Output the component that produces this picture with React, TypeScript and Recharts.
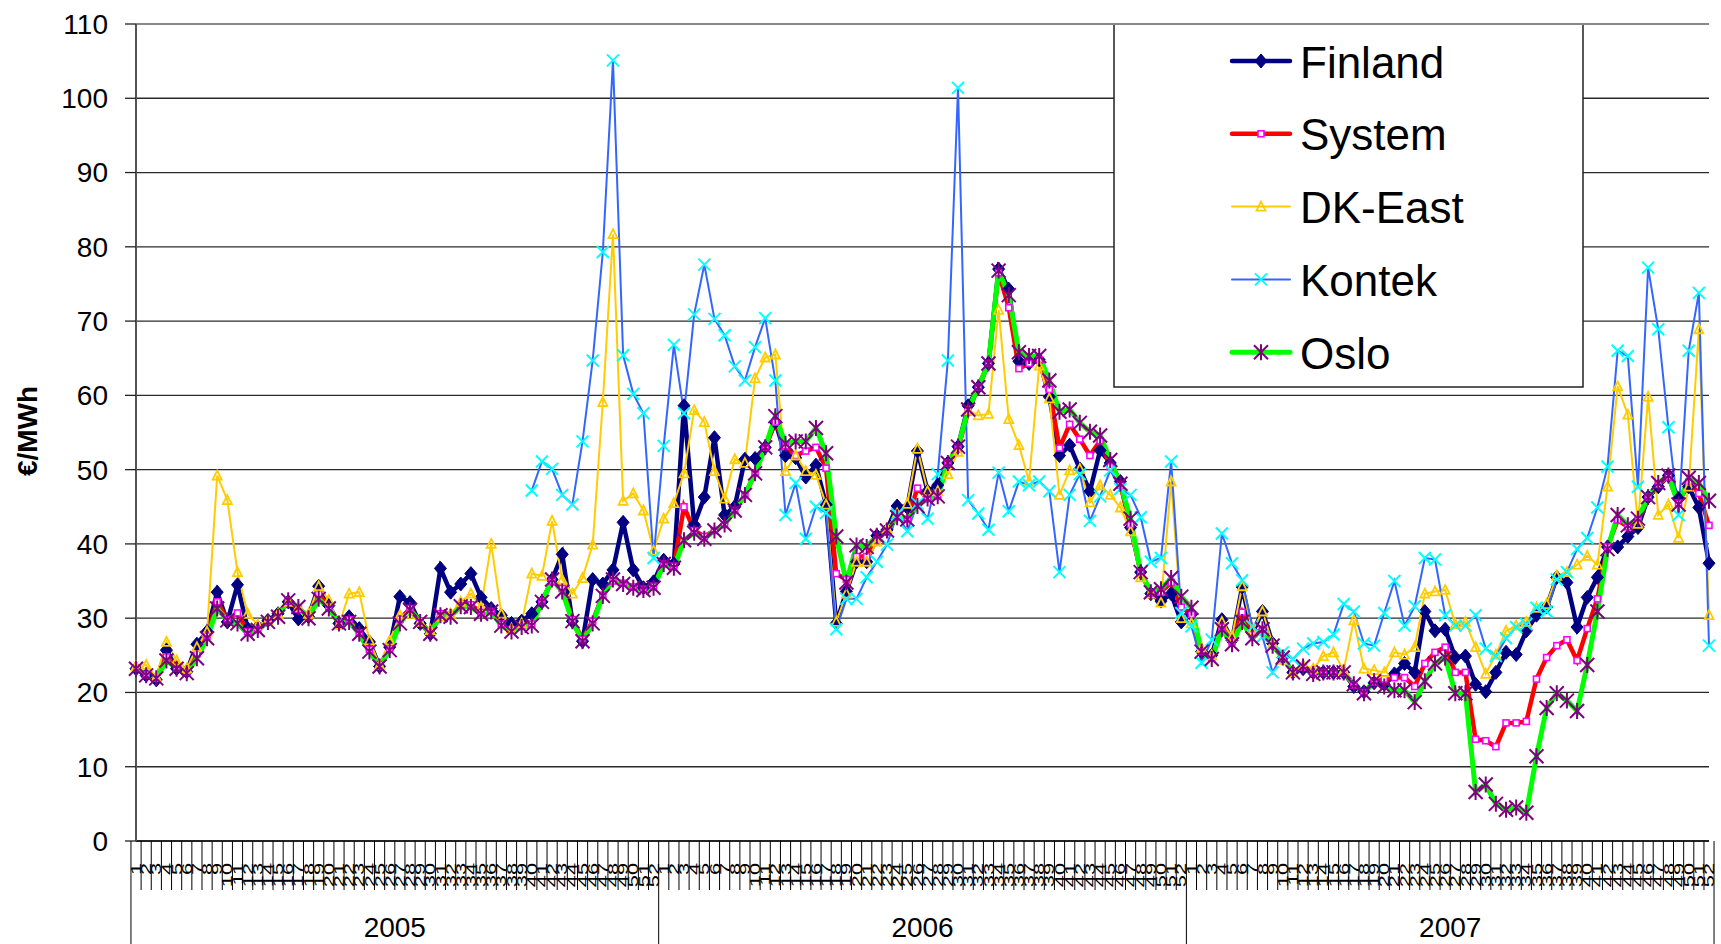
import React from 'react';
import { LineChart, Line, XAxis, YAxis, CartesianGrid, ReferenceLine, Customized } from 'recharts';

const YEARS = ['2005', '2006', '2007'];
const WEEKS = ['1','2','3','4','5','6','7','8','9','10','11','12','13','14','15','16','17','18','19','20','21','22','23','24','25','26','27','28','29','30','31','32','33','34','35','36','37','38','39','40','41','42','43','44','45','46','47','48','49','50','51','52'];
const Y_TICKS = [0, 10, 20, 30, 40, 50, 60, 70, 80, 90, 100, 110];

const FINLAND = [
  23.2, 22.3, 21.7, 25.7, 23.2, 22.8, 26.5, 28.2, 33.5, 29.5,
  34.5, 28.6, 28.8, 29.7, 30.6, 32.2, 29.9, 30.2, 34.3, 31.7,
  29.3, 30.2, 28.6, 26.8, 23.5, 26.1, 32.9, 32.1, 29.3, 27.9,
  36.7, 33.5, 34.6, 36.0, 32.8, 31.3, 30.4, 29.3, 29.6, 30.6,
  32.2, 35.2, 38.6, 29.6, 26.9, 35.2, 34.6, 36.5, 42.9, 36.5,
  34.1, 34.9,
  37.8, 37.3, 58.6, 42.6, 46.3, 54.3, 43.9, 45.0, 51.4, 51.5,
  53.0, 56.4, 51.9, 51.6, 49.0, 50.6, 45.3, 29.3, 33.6, 37.6,
  37.6, 41.1, 41.9, 45.1, 44.9, 52.5, 47.1, 47.9, 50.9, 53.1,
  58.6, 61.1, 64.3, 77.0, 74.3, 64.6, 64.3, 64.8, 59.8, 51.9,
  53.3, 50.1, 47.1, 52.6, 50.9, 48.4, 42.2, 36.2, 33.3, 32.3,
  33.3, 29.5,
  30.5, 25.5, 25.0, 29.8, 27.0, 34.2, 28.0, 30.9, 26.6, 24.7,
  22.7, 23.2, 22.7, 22.7, 22.7, 22.7, 20.8, 20.1, 21.3, 21.1,
  22.5, 23.9, 22.7, 30.9, 28.3, 28.5, 24.7, 24.9, 21.1, 20.1,
  22.7, 25.4, 25.1, 28.3, 30.4, 31.5, 35.5, 34.8, 28.8, 32.8,
  35.5, 39.6, 39.6, 41.0, 42.2, 46.3, 47.7, 49.2, 46.1, 47.7,
  44.9, 37.4,
];

const SYSTEM = [
  23.3, 22.4, 22.0, 24.8, 23.3, 22.7, 25.2, 27.6, 32.2, 29.8,
  30.7, 28.2, 28.5, 29.6, 30.3, 32.3, 31.2, 30.2, 33.3, 31.5,
  29.4, 29.8, 28.0, 25.8, 23.6, 25.9, 29.9, 31.3, 29.6, 28.0,
  30.6, 30.4, 31.7, 31.8, 30.8, 30.9, 29.2, 28.4, 28.9, 29.2,
  32.3, 35.0, 34.0, 29.8, 27.2, 29.6, 33.1, 35.0, 34.7, 34.2,
  33.9, 34.3,
  37.3, 37.0, 45.0, 41.8, 41.0, 41.8, 42.6, 44.5, 46.6, 49.5,
  53.0, 56.4, 53.2, 51.9, 52.5, 53.0, 50.2, 36.0, 35.2, 38.3,
  38.3, 40.5, 41.8, 43.6, 43.3, 47.5, 46.1, 46.4, 50.9, 52.8,
  57.8, 61.1, 64.3, 76.5, 71.8, 63.6, 64.3, 64.8, 60.8, 52.9,
  56.1, 54.1, 51.9, 53.9, 50.4, 47.9, 42.6, 36.2, 33.4, 33.5,
  34.8, 31.5,
  30.5, 25.5, 24.7, 28.8, 26.8, 30.8, 27.8, 28.5, 26.4, 24.7,
  22.7, 23.4, 22.6, 22.7, 22.7, 22.7, 21.0, 20.0, 21.4, 21.8,
  22.0, 22.0, 20.8, 23.9, 25.4, 26.1, 22.7, 22.7, 13.7, 13.5,
  12.7, 15.9, 15.9, 16.1, 21.8, 24.7, 26.3, 27.1, 24.3, 28.6,
  32.6, 39.6, 43.2, 42.3, 43.2, 46.3, 48.0, 49.0, 45.5, 48.3,
  46.8, 42.5,
];

const DK_EAST = [
  23.5, 23.7, 22.1, 26.8, 24.3, 23.2, 26.1, 28.2, 49.2, 45.9,
  36.2, 30.6, 29.1, 29.7, 30.6, 32.2, 31.5, 30.6, 34.3, 32.4,
  29.1, 33.3, 33.5, 27.0, 23.7, 27.0, 30.4, 30.6, 29.5, 28.4,
  30.2, 30.6, 32.2, 33.3, 31.5, 40.0, 30.6, 28.6, 29.3, 36.0,
  35.7, 43.1, 35.2, 33.3, 35.4, 39.9, 59.1, 81.7, 45.8, 46.8,
  44.5, 39.1,
  43.4, 45.5, 49.5, 58.0, 56.4, 49.8, 46.1, 51.4, 50.9, 62.3,
  65.1, 65.5, 49.8, 51.9, 49.8, 49.3, 45.3, 29.5, 33.3, 37.6,
  37.6, 40.3, 42.1, 44.1, 45.4, 52.8, 47.1, 47.1, 49.4, 52.4,
  58.0, 57.3, 57.5, 71.5, 56.8, 53.3, 48.4, 64.0, 59.6, 46.6,
  49.9, 50.1, 45.6, 47.9, 46.6, 44.9, 41.7, 35.5, 33.3, 32.1,
  48.4, 30.0,
  29.3, 26.0, 25.0, 29.5, 27.5, 34.3, 28.3, 30.9, 26.6, 24.4,
  22.7, 23.7, 23.2, 24.9, 25.4, 23.0, 29.7, 23.2, 23.0, 22.7,
  25.4, 25.1, 26.1, 33.3, 33.6, 33.8, 29.2, 29.5, 26.1, 22.5,
  25.1, 28.3, 29.0, 29.5, 31.4, 31.9, 35.7, 36.2, 37.2, 38.4,
  37.2, 47.7, 61.2, 57.4, 42.7, 59.8, 43.9, 45.3, 40.8, 47.7,
  68.9, 30.4,
];

const KONTEK: (number | null)[] = [
  null, null, null, null, null, null, null, null, null, null,
  null, null, null, null, null, null, null, null, null, null,
  null, null, null, null, null, null, null, null, null, null,
  null, null, null, null, null, null, null, null, null, 47.2,
  51.1, 50.1, 46.6, 45.3, 53.8, 64.7, 79.3, 105.1, 65.4, 60.2,
  57.6, 38.1,
  53.2, 66.8, 57.6, 70.9, 77.6, 70.3, 68.1, 63.9, 62.0, 66.5,
  70.4, 62.0, 43.9, 48.2, 40.7, 45.0, 44.2, 28.5, 32.6, 32.6,
  35.5, 37.6, 39.9, 44.0, 41.7, 45.4, 43.4, 49.4, 64.7, 101.4,
  45.9, 44.1, 41.9, 49.6, 44.4, 48.4, 47.9, 48.4, 47.1, 36.2,
  46.6, 49.4, 43.1, 46.4, 49.9, 47.4, 46.6, 43.6, 37.6, 38.1,
  51.1, 30.7,
  28.9, 24.0, 27.1, 41.4, 37.4, 35.1, 28.9, 27.5, 22.7, 25.4,
  24.5, 25.9, 26.6, 26.8, 27.8, 31.9, 30.9, 26.6, 26.3, 30.7,
  35.0, 29.0, 31.6, 38.1, 37.9, 30.4, 29.0, 29.0, 30.4, 25.9,
  24.9, 27.3, 28.8, 29.2, 31.4, 30.9, 35.2, 36.2, 39.3, 40.8,
  44.9, 50.4, 66.0, 65.3, 47.7, 77.2, 68.9, 55.7, 43.9, 66.0,
  73.8, 26.3,
];

const OSLO = [
  23.2, 22.3, 21.9, 24.3, 23.2, 22.6, 24.6, 27.3, 31.3, 29.7,
  29.3, 27.9, 28.4, 29.5, 30.2, 32.4, 31.5, 30.0, 32.6, 31.3,
  29.3, 29.5, 27.9, 25.5, 23.5, 25.7, 29.3, 31.1, 29.5, 27.9,
  30.4, 30.2, 31.6, 31.5, 30.6, 30.9, 29.0, 28.2, 28.8, 29.0,
  32.2, 35.2, 33.6, 29.6, 26.9, 29.3, 33.0, 35.2, 34.6, 34.1,
  33.8, 34.1,
  37.3, 36.8, 40.5, 41.5, 40.7, 41.8, 42.6, 44.5, 46.6, 49.5,
  53.0, 57.2, 53.5, 53.8, 53.8, 55.6, 52.2, 41.0, 34.8, 39.8,
  39.6, 41.1, 41.8, 43.6, 43.3, 45.1, 46.1, 46.4, 50.9, 53.1,
  58.1, 61.1, 64.3, 76.8, 73.5, 65.8, 65.3, 65.3, 62.0, 57.8,
  58.1, 56.3, 55.1, 54.6, 51.3, 48.1, 43.4, 36.2, 33.5, 33.9,
  35.4, 32.9,
  31.4, 25.5, 24.5, 28.5, 26.5, 29.5, 27.3, 28.5, 26.3, 24.7,
  22.7, 23.5, 22.5, 22.7, 22.7, 22.7, 21.1, 19.9, 21.5, 20.8,
  20.3, 20.3, 18.7, 21.5, 23.9, 24.7, 19.9, 19.9, 6.6, 7.6,
  5.0, 4.2, 4.5, 3.8, 11.4, 17.9, 19.9, 18.9, 17.5, 23.7,
  30.9, 39.3, 43.9, 42.5, 43.4, 46.3, 48.2, 49.2, 45.3, 48.9,
  48.2, 45.8,
];

const data = YEARS.flatMap((year, yi) =>
  WEEKS.map((week, wi) => {
    const k = yi * WEEKS.length + wi;
    return {
      key: `${year}-${week}`,
      year,
      week,
      weekIndex: wi,
      Finland: FINLAND[k],
      System: SYSTEM[k],
      'DK-East': DK_EAST[k],
      Kontek: KONTEK[k],
      Oslo: OSLO[k],
    };
  })
);

const W = 1721;
const H = 944;
const M_LEFT = 136;
const M_RIGHT = 12;
const M_TOP = 24;
const X_H = 103;
const BAND = (W - M_LEFT - M_RIGHT) / data.length;
const FONT = "'Liberation Sans', Arial, sans-serif";

const C = {
  navy: '#000080',
  red: '#FF0000',
  magenta: '#FF00FF',
  gold: '#FFCC00',
  blue: '#3366FF',
  cyan: '#00FFFF',
  green: '#00FF00',
  purple: '#800080',
};

const diamond = (cx: number, cy: number) => (
  <polygon points={`${cx},${cy - 7} ${cx + 6},${cy} ${cx},${cy + 7} ${cx - 6},${cy}`} fill={C.navy} stroke={C.navy} strokeWidth={1} />
);
const square = (cx: number, cy: number) => (
  <rect x={cx - 3} y={cy - 3} width={6} height={6} fill="#fff" stroke={C.magenta} strokeWidth={1.6} />
);
const triangle = (cx: number, cy: number) => (
  <polygon points={`${cx},${cy - 5} ${cx + 4.5},${cy + 4} ${cx - 4.5},${cy + 4}`} fill="none" stroke={C.gold} strokeWidth={1.8} />
);
const xmark = (cx: number, cy: number) => (
  <path d={`M${cx - 6},${cy - 6}L${cx + 6},${cy + 6}M${cx - 6},${cy + 6}L${cx + 6},${cy - 6}`} stroke={C.cyan} strokeWidth={2} fill="none" />
);
const star = (cx: number, cy: number) => (
  <path d={`M${cx - 7},${cy - 7}L${cx + 7},${cy + 7}M${cx - 7},${cy + 7}L${cx + 7},${cy - 7}M${cx},${cy - 8}L${cx},${cy + 8}`} stroke={C.purple} strokeWidth={2} fill="none" />
);

const makeDot = (shape: (cx: number, cy: number) => React.ReactElement, name: string) => (props: any) => {
  const { cx, cy, index, value } = props;
  if (cx == null || cy == null || value == null || Number.isNaN(cy)) return <g key={`${name}-${index}`} />;
  return <g key={`${name}-${index}`}>{shape(cx, cy)}</g>;
};

const WeekTick = (props: any) => {
  const { x, y, payload } = props;
  const i = payload?.index ?? props.index;
  const row = data[i];
  if (!row) return <g />;
  const half = typeof payload?.offset === 'number' && payload.offset > 0 ? payload.offset : BAND / 2;
  const left = x - half;
  const right = x + half;
  const isFirst = row.weekIndex === 0;
  const isLast = i === data.length - 1;
  const bottom = y + X_H;
  return (
    <g>
      <line x1={left} y1={y} x2={left} y2={isFirst ? bottom : y + 49} stroke="#000" strokeWidth={1} />
      {isLast && <line x1={right} y1={y} x2={right} y2={bottom} stroke="#000" strokeWidth={1} />}
      <text
        transform={`translate(${x},${y + 22}) rotate(-90) scale(1.5,1)`}
        textAnchor="end"
        dominantBaseline="central"
        fontSize={14.5}
        fontFamily={FONT}
        fill="#000"
      >
        {row.week}
      </text>
      {row.weekIndex === 26 && (
        <text x={left} y={y + 96} textAnchor="middle" fontSize={28} fontFamily={FONT} fill="#000">
          {row.year}
        </text>
      )}
    </g>
  );
};

const LEGEND = [
  { name: 'Finland', color: C.navy, width: 4.5, shape: diamond },
  { name: 'System', color: C.red, width: 4.5, shape: square },
  { name: 'DK-East', color: C.gold, width: 2, shape: triangle },
  { name: 'Kontek', color: C.blue, width: 2, shape: xmark },
  { name: 'Oslo', color: C.green, width: 5, shape: star },
];

const Overlay = () => (
  <g>
    <text
      transform="translate(37,431) rotate(-90)"
      textAnchor="middle"
      fontSize={28}
      fontWeight="bold"
      fontFamily={FONT}
      fill="#000"
    >
      €/MWh
    </text>
    <rect x={1114} y={24} width={469} height={363} fill="#fff" stroke="#222" strokeWidth={1.5} />
    {LEGEND.map((l, i) => {
      const ly = 61 + i * 72.8;
      return (
        <g key={l.name}>
          <line x1={1232} y1={ly} x2={1290} y2={ly} stroke={l.color} strokeWidth={l.width} strokeLinecap="round" />
          {l.shape(1261, ly)}
          <text x={1300} y={ly + 16.5} fontSize={44} fontFamily={FONT} fill="#000">
            {l.name}
          </text>
        </g>
      );
    })}
  </g>
);

export default function App() {
  return (
    <div style={{ position: 'absolute', left: 0, top: 0, width: W, height: H, background: '#fff' }}>
      <LineChart width={W} height={H} data={data} margin={{ top: M_TOP, right: M_RIGHT, bottom: 0, left: 0 }}>
        <CartesianGrid yAxisId="l" horizontal vertical={false} stroke="#2a2a2a" strokeWidth={1.3} />
        <XAxis
          dataKey="key"
          height={X_H}
          interval={0}
          tickLine={false}
          tickSize={0}
          tickMargin={0}
          tick={<WeekTick />}
          axisLine={{ stroke: '#222', strokeWidth: 2 }}
        />
        <YAxis
          yAxisId="l"
          width={M_LEFT}
          domain={[0, 110]}
          ticks={Y_TICKS}
          interval={0}
          tickSize={11}
          tickMargin={17}
          tickLine={{ stroke: '#222', strokeWidth: 1.3 }}
          axisLine={{ stroke: '#555', strokeWidth: 2 }}
          tick={{ fontSize: 28, fill: '#000', fontFamily: FONT }}
          allowDataOverflow
        />
        <YAxis
          yAxisId="r"
          orientation="right"
          width={0}
          domain={[0, 110]}
          tick={false}
          tickLine={false}
          axisLine={{ stroke: '#888', strokeWidth: 2 }}
        />
        <ReferenceLine yAxisId="l" y={110} stroke="#888" strokeWidth={2} />
        <Line yAxisId="l" type="linear" dataKey="Finland" stroke={C.navy} strokeWidth={4.5} dot={makeDot(diamond, 'fi')} activeDot={false} isAnimationActive={false} />
        <Line yAxisId="l" type="linear" dataKey="System" stroke={C.red} strokeWidth={4.5} dot={makeDot(square, 'sy')} activeDot={false} isAnimationActive={false} />
        <Line yAxisId="l" type="linear" dataKey="DK-East" stroke={C.gold} strokeWidth={2} dot={makeDot(triangle, 'dk')} activeDot={false} isAnimationActive={false} />
        <Line yAxisId="l" type="linear" dataKey="Kontek" stroke={C.blue} strokeWidth={2} dot={makeDot(xmark, 'ko')} activeDot={false} isAnimationActive={false} connectNulls={false} />
        <Line yAxisId="l" type="linear" dataKey="Oslo" stroke={C.green} strokeWidth={5} dot={makeDot(star, 'os')} activeDot={false} isAnimationActive={false} />
        <Customized component={Overlay} />
      </LineChart>
    </div>
  );
}
